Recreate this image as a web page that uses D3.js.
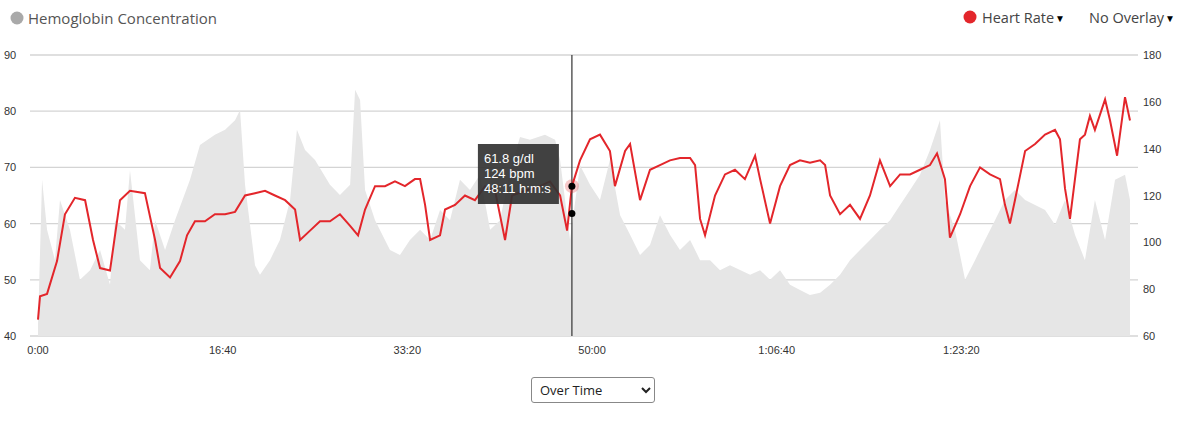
<!DOCTYPE html>
<html><head><meta charset="utf-8">
<script src="https://cdn.jsdelivr.net/npm/d3@7"></script>
<style>
body{margin:0;background:#fff;width:1200px;height:428px;overflow:hidden;font-family:"Open Sans",sans-serif;}
svg{position:absolute;left:0;top:0}
select{position:absolute;left:531px;top:377px;width:124px;height:26px;font-family:"Open Sans";font-size:13px;border:1px solid #888;border-radius:3px;background:#fff;padding-left:4px;color:#222}
</style></head><body>
<svg id="c" width="1200" height="428"></svg>
<select><option>Over Time</option></select>
<script>
const hrTime=[0,11,49,103,146,200,255,298,336,390,444,498,579,634,661,715,769,807,850,904,958,1013,1067,1121,1175,1229,1283,1338,1392,1419,1473,1527,1581,1635,1690,1733,1771,1825,1879,1933,1987,2041,2069,2096,2123,2177,2204,2258,2312,2366,2421,2475,2529,2567,2637,2718,2772,2827,2865,2891,2935,2989,3043,3097,3124,3179,3206,3260,3314,3368,3422,3476,3531,3558,3585,3612,3666,3720,3774,3828,3883,3910,3964,4018,4072,4126,4180,4235,4262,4289,4343,4397,4451,4505,4559,4614,4668,4722,4776,4830,4868,4911,4938,4993,5047,5101,5155,5209,5236,5263,5290,5345,5399,5453,5507,5534,5561,5588,5615,5642,5669,5696,5723,5778,5805,5843,5886,5913];
const hrValues=[67,77,78,92,112,119,118,101,89,88,118,122,121,101,89,85,92,103,109,109,112,112,113,120,121,122,120,118,114,101,105,109,109,112,107,103,114,124,124,126,124,127,127,116,101,103,114,116,120,118,124,122,101,120,122,124,126,120,105,124,135,144,146,139,124,139,142,118,131,133,135,136,136,133,110,103,120,129,131,127,137,127,108,124,133,135,134,135,133,120,112,116,110,120,135,124,129,129,131,133,138,127,102,112,124,132,129,127,116,108,118,139,142,146,148,144,123,110,127,144,146,154,148,161,152,137,162,152];
const hbTime=[0,22,49,92,119,173,227,282,336,390,417,471,498,552,606,634,688,742,823,877,958,1013,1067,1094,1121,1175,1202,1256,1310,1365,1402,1446,1500,1581,1635,1690,1717,1744,1771,1825,1906,1960,2014,2069,2123,2177,2231,2285,2339,2393,2448,2502,2556,2610,2664,2745,2800,2827,2854,2881,2935,2989,3043,3097,3152,3206,3260,3314,3368,3422,3476,3531,3585,3639,3693,3747,3856,3910,3964,4018,4072,4126,4180,4235,4289,4343,4397,4451,4505,4559,4614,4668,4722,4776,4830,4884,4911,4965,5020,5074,5128,5182,5236,5290,5345,5399,5453,5507,5561,5615,5669,5723,5778,5832,5886,5913];
const hbValues=[42,67.8,58.9,53.5,64.2,58.9,50,51.7,55.3,49.1,60.6,58.9,69.5,53.5,51.7,60.6,55.3,60.6,67.8,74,75.8,76.7,78.4,80.2,66.9,52.6,50.9,53.5,57.1,64.2,76.7,73.1,71.3,66.9,65.1,66.9,83.8,82,66,60.6,55.3,54.4,57.1,58.9,57.1,62.4,60.6,67.8,66,68.7,58.9,60.6,69.5,75.4,74.9,75.8,74.9,71.3,64.2,57.1,70.4,66.9,64.2,71.3,61.5,58,54.4,56.2,61.5,58,55.3,57.1,53.5,53.5,51.7,52.6,50.9,51.7,50,51.7,49.1,48.2,47.3,47.7,49.1,50.9,53.5,55.3,57.1,58.9,60.6,63.3,66,68.7,73.1,78.4,64.2,58.9,50,53.5,57.1,60.6,64.2,66,64.2,63.3,62.4,59.8,64.2,58,53.5,64.2,57.1,67.8,68.7,64.2];
const leftTicks=[40,50,60,70,80,90];
const rightTicks=[60,80,100,120,140,160,180];
const xTicks=[0,1000,2000,3000,4000,5000];
const xTickLabels=["0:00","16:40","33:20","50:00","1:06:40","1:23:20"];
const cursor={t:2891,hb:61.8,hr:124,label:"48:11 h:m:s"};

const svg=d3.select("#c");
const L=38,R=1130,T=55,B=336;
const x=d3.scaleLinear().domain([0,5913]).range([L,R]);
const yL=d3.scaleLinear().domain([40,90]).range([B,T]);
const yR=d3.scaleLinear().domain([60,180]).range([B,T]);

svg.append("g").selectAll("line").data(leftTicks).join("line")
 .attr("x1",L-8).attr("x2",R+8).attr("y1",d=>yL(d)).attr("y2",d=>yL(d))
 .attr("stroke","#d4d4d4").attr("stroke-width",1.3);

const hb=hbTime.map((t,i)=>[t,hbValues[i]]);
svg.append("path").datum(hb).attr("fill","#e6e6e6")
 .attr("d",d3.area().x(d=>x(d[0])).y0(B).y1(d=>yL(d[1])));

const hr=hrTime.map((t,i)=>[t,hrValues[i]]);
svg.append("path").datum(hr).attr("fill","none").attr("stroke","#e3262b").attr("stroke-width",2)
 .attr("d",d3.line().x(d=>x(d[0])).y(d=>yR(d[1])));

const ax=svg.append("g").style("font-family","'Liberation Sans',Arial").style("font-size","11px").attr("fill","#333");
ax.selectAll(".l").data(leftTicks).join("text").attr("x",4).attr("y",d=>yL(d)+4).text(d=>d);
ax.selectAll(".r").data(rightTicks).join("text").attr("x",1143).attr("y",d=>yR(d)+4).text(d=>d);
ax.selectAll(".b").data(xTicks).join("text").attr("x",d=>x(d)).attr("y",354).attr("text-anchor","middle").text((d,i)=>xTickLabels[i]);

// cursor
svg.append("line").attr("x1",x(cursor.t)).attr("x2",x(cursor.t)).attr("y1",T).attr("y2",B).attr("stroke","#333").attr("stroke-width",1.2);
svg.append("circle").attr("cx",x(cursor.t)).attr("cy",yR(cursor.hr)).attr("r",7).attr("fill","#e3262b").attr("opacity",0.25);
svg.append("circle").attr("cx",x(cursor.t)).attr("cy",yR(cursor.hr)).attr("r",3.5).attr("fill","#000");
svg.append("circle").attr("cx",x(cursor.t)).attr("cy",yL(cursor.hb)).attr("r",3.5).attr("fill","#000");
const tip=svg.append("g").attr("transform",`translate(${x(cursor.t)-94},144)`);
tip.append("rect").attr("width",81).attr("height",60).attr("fill","#333").attr("opacity",0.92);
tip.selectAll("text").data([cursor.hb+" g/dl",cursor.hr+" bpm",cursor.label]).join("text")
 .attr("x",6).attr("y",(d,i)=>19+i*15).attr("fill","#fff").style("font-family","'Liberation Sans',Arial").style("font-size","13px").text(d=>d);

// header legends
svg.append("circle").attr("cx",17).attr("cy",18).attr("r",6.5).attr("fill","#a9a9a9");
svg.append("text").attr("x",28).attr("y",24).attr("fill","#555").style("font-size","15px").text("Hemoglobin Concentration");
svg.append("circle").attr("cx",970).attr("cy",17).attr("r",6.5).attr("fill","#e3262b");
svg.append("text").attr("x",982).attr("y",23).attr("fill","#444").style("font-size","14.5px").text("Heart Rate");
svg.append("text").attr("x",1055).attr("y",22).style("font-size","10px").text("▼");
svg.append("text").attr("x",1089).attr("y",23).attr("fill","#444").style("font-size","14.5px").text("No Overlay");
svg.append("text").attr("x",1165).attr("y",22).style("font-size","10px").text("▼");
</script></body></html>
